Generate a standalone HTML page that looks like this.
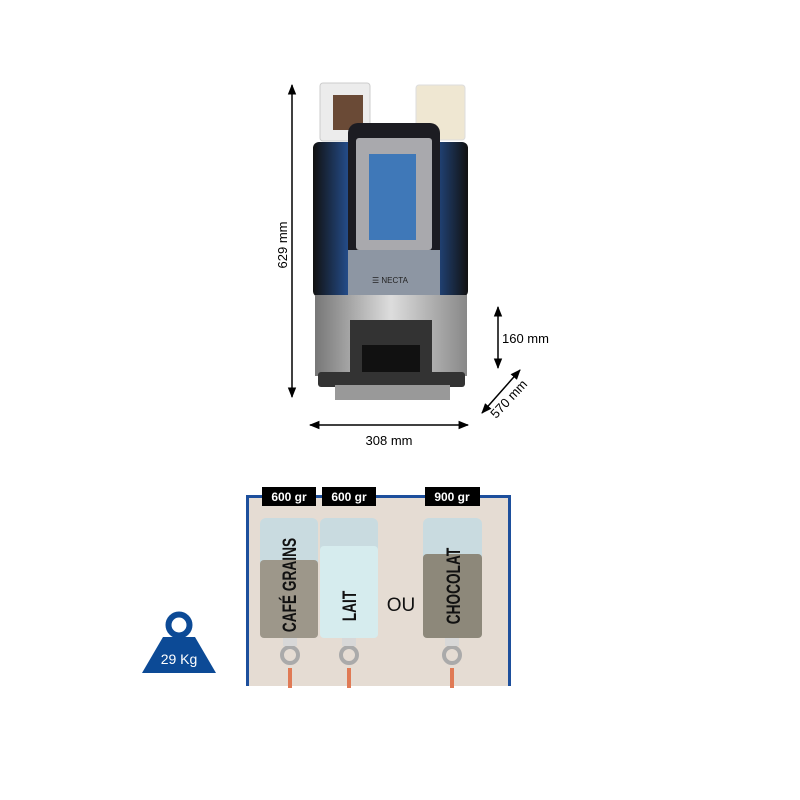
<!DOCTYPE html>
<html><head><meta charset="utf-8"><style>body{margin:0;background:#fff}svg{display:block}</style></head><body>
<svg width="800" height="800" viewBox="0 0 800 800" xmlns="http://www.w3.org/2000/svg" font-family="Liberation Sans, sans-serif">
<defs>
<marker id="a" viewBox="0 0 10 10" refX="9" refY="5" markerWidth="7" markerHeight="7" orient="auto-start-reverse"><path d="M0,1L10,5L0,9z" fill="#000"/></marker>
<linearGradient id="blue" x1="0" x2="1"><stop offset="0" stop-color="#111"/><stop offset=".3" stop-color="#2a5fb0"/><stop offset=".7" stop-color="#2a5fb0"/><stop offset="1" stop-color="#111"/></linearGradient>
<linearGradient id="steel" x1="0" x2="1"><stop offset="0" stop-color="#777"/><stop offset=".5" stop-color="#ddd"/><stop offset="1" stop-color="#888"/></linearGradient>
</defs>
<g stroke="#000" stroke-width="1.5" marker-start="url(#a)" marker-end="url(#a)">
<line x1="292" y1="85" x2="292" y2="397"/>
<line x1="310" y1="425" x2="468" y2="425"/>
<line x1="498" y1="307" x2="498" y2="368"/>
<line x1="482" y1="413" x2="520" y2="370"/>
</g>
<g font-size="13" fill="#000">
<text transform="translate(292,245) rotate(-90)" text-anchor="middle" dy="-5">629 mm</text>
<text x="389" y="445" text-anchor="middle">308 mm</text>
<text x="502" y="343">160 mm</text>
<text transform="translate(512,402) rotate(-47)" text-anchor="middle">570 mm</text>
</g>
<rect x="320" y="83" width="50" height="58" rx="3" fill="#ececec" stroke="#ccc"/>
<rect x="333" y="95" width="30" height="35" fill="#6a4a36"/>
<rect x="416" y="85" width="49" height="55" rx="3" fill="#efe7d2" stroke="#ddd"/>
<rect x="313" y="142" width="155" height="155" rx="6" fill="url(#blue)"/>
<rect x="348" y="123" width="92" height="172" rx="10" fill="#1c1c22"/>
<rect x="356" y="138" width="76" height="112" rx="3" fill="#a9a9ad"/>
<rect x="369" y="154" width="47" height="86" fill="#3f78b8"/>
<rect x="348" y="250" width="92" height="45" fill="#8d96a3"/>
<text x="372" y="283" font-size="8" fill="#222">☰ NECTA</text>
<rect x="315" y="295" width="152" height="25" fill="url(#steel)"/>
<rect x="315" y="320" width="152" height="56" fill="url(#steel)"/>
<rect x="350" y="320" width="82" height="56" fill="#333"/>
<rect x="362" y="345" width="58" height="28" fill="#111"/>
<rect x="318" y="372" width="147" height="15" rx="3" fill="#333"/>
<rect x="335" y="385" width="115" height="15" fill="#999"/>
<rect x="247.5" y="496.5" width="262" height="200" fill="#e5dcd3" stroke="#1d4f9c" stroke-width="3"/>
<rect x="244" y="686" width="270" height="20" fill="#fff"/>
<g fill="#000"><rect x="262" y="487" width="54" height="19"/><rect x="322" y="487" width="54" height="19"/><rect x="425" y="487" width="55" height="19"/></g>
<g fill="#fff" font-weight="bold" font-size="12" text-anchor="middle"><text x="289" y="501">600 gr</text><text x="349" y="501">600 gr</text><text x="452" y="501">900 gr</text></g>
<g>
<rect x="260" y="518" width="58" height="120" rx="6" fill="#c9dbe0"/><rect x="260" y="560" width="58" height="78" rx="4" fill="#9d978a"/>
<rect x="320" y="518" width="58" height="120" rx="6" fill="#c9dbe0"/><rect x="320" y="546" width="58" height="92" rx="4" fill="#d6ecee"/>
<rect x="423" y="518" width="59" height="120" rx="6" fill="#c9dbe0"/><rect x="423" y="554" width="59" height="84" rx="4" fill="#8d887a"/>
</g>
<g fill="none" stroke="#aaa" stroke-width="4"><circle cx="290" cy="655" r="8"/><circle cx="349" cy="655" r="8"/><circle cx="452" cy="655" r="8"/></g>
<g fill="#d8d8d8"><rect x="283" y="638" width="14" height="8"/><rect x="342" y="638" width="14" height="8"/><rect x="445" y="638" width="14" height="8"/></g>
<g fill="#e07a55"><rect x="288" y="668" width="4" height="20"/><rect x="347" y="668" width="4" height="20"/><rect x="450" y="668" width="4" height="20"/></g>
<g font-weight="bold" font-size="19" fill="#111" text-anchor="middle">
<text transform="translate(296,585) rotate(-90) scale(0.72,1)">CAFÉ GRAINS</text>
<text transform="translate(356,606) rotate(-90) scale(0.72,1)">LAIT</text>
<text transform="translate(460,586) rotate(-90) scale(0.72,1)">CHOCOLAT</text>
</g>
<text x="401" y="611" font-size="19" text-anchor="middle" fill="#111">OU</text>
<circle cx="179" cy="625" r="10.5" fill="none" stroke="#0c4a96" stroke-width="6"/>
<path d="M163,637H195L216,673H142Z" fill="#0c4a96"/>
<text x="179" y="664" font-size="14" fill="#fff" text-anchor="middle">29 Kg</text>
</svg>
</body></html>
